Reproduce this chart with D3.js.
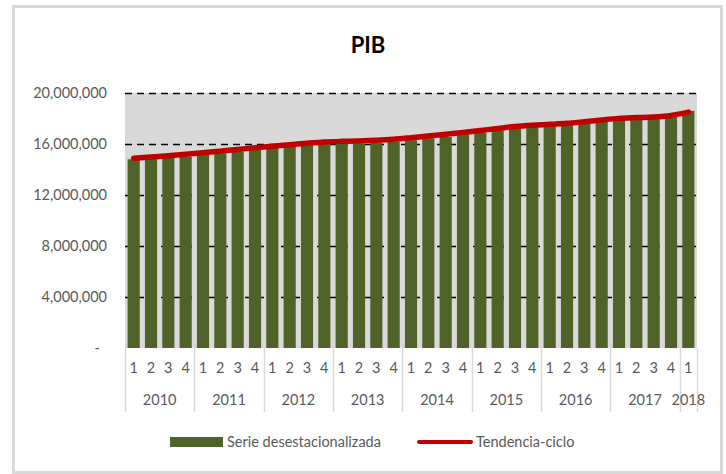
<!DOCTYPE html>
<html><head><meta charset="utf-8">
<script src="https://cdn.jsdelivr.net/npm/d3@7"></script>
<style>body{margin:0;background:#fff;} svg{display:block;font-family:Lato,"Open Sans",sans-serif;}</style>
</head><body>
<script>
const years = ["2010","2011","2012","2013","2014","2015","2016","2017","2018"];
const quarters = ["1","2","3","4"];
const quarterCount = [4,4,4,4,4,4,4,4,1];
const serieDesest = [14.80,14.85,14.90,15.00, 15.14,15.27,15.40,15.58, 15.69,15.79,15.95,16.05,
  16.05,16.05,16.10,16.20, 16.30,16.45,16.55,16.75, 16.90,17.05,17.31,17.36, 17.41,17.49,17.62,17.80,
  17.93,17.96,18.00,18.14, 18.60].map(v=>v*1e6);
const tendencia = [14.88,14.98,15.08,15.19, 15.31,15.44,15.57,15.71, 15.83,15.94,16.06,16.16,
  16.21,16.24,16.29,16.37, 16.49,16.62,16.76,16.91, 17.06,17.21,17.37,17.47, 17.54,17.62,17.75,17.89,
  18.01,18.07,18.12,18.24, 18.50].map(v=>v*1e6);
const yTicks = [0,4e6,8e6,12e6,16e6,20e6];
const title = "PIB";
const legendLabels = ["Serie desestacionalizada","Tendencia-ciclo"];

const cats = [];
years.forEach((y,i)=>{ for(let q=0;q<quarterCount[i];q++) cats.push({year:y, q:quarters[q], key:y+"-"+quarters[q]}); });

const W=726,H=474;
const svg=d3.select("body").append("svg").attr("width",W).attr("height",H);
svg.append("rect").attr("x",13.5).attr("y",6.5).attr("width",708).attr("height",466)
  .attr("fill","#fff").attr("stroke","#d9d9d9").attr("stroke-width",3);

const L=125,R=697,T=93,B=348;
const x=d3.scaleBand().domain(cats.map(d=>d.key)).range([L,R]).paddingInner(0.3).paddingOuter(0.15);
const y=d3.scaleLinear().domain([0,20e6]).range([B,T]);
const FS=14.5;

svg.append("text").attr("x",368).attr("y",53).attr("text-anchor","middle")
  .attr("font-size",22).attr("font-weight","bold").attr("fill","#000").text(title);

svg.append("rect").attr("x",L).attr("y",T).attr("width",R-L).attr("height",B-T).attr("fill","#d9d9d9");

// gridlines
svg.append("g").selectAll("line").data(yTicks.filter(d=>d>0)).join("line")
  .attr("x1",L).attr("x2",R).attr("y1",d=>Math.round(y(d))+0.5).attr("y2",d=>Math.round(y(d))+0.5)
  .attr("stroke","#000").attr("stroke-width",1.5).attr("stroke-dasharray","7,5");

// y labels
const fmt=d3.format(",");
svg.append("g").selectAll("text").data(yTicks).join("text")
  .attr("x",d=>d===0?100:107).attr("y",d=>y(d)).attr("dy","0.35em").attr("text-anchor","end")
  .attr("font-size",FS).attr("fill","#595959").text(d=>d===0?"-":fmt(d));

// bars
svg.append("g").selectAll("rect").data(cats).join("rect")
  .attr("x",d=>x(d.key)).attr("width",x.bandwidth())
  .attr("y",(d,i)=>y(serieDesest[i])).attr("height",(d,i)=>B-y(serieDesest[i]))
  .attr("fill","#4f6228");

// line
const line=d3.line().x((d,i)=>x(cats[i].key)+x.bandwidth()/2).y(d=>y(d)).curve(d3.curveMonotoneX);
svg.append("path").datum(tendencia).attr("d",line).attr("fill","none")
  .attr("stroke","#c00000").attr("stroke-width",5.5).attr("stroke-linecap","round");

// x axis: quarter labels
svg.append("g").selectAll("text").data(cats).join("text")
  .attr("x",d=>x(d.key)+x.bandwidth()/2).attr("y",373).attr("text-anchor","middle")
  .attr("font-size",FS).attr("fill","#595959").text(d=>d.q);

// year groups
let idx=0; const groups=[];
years.forEach((yv,i)=>{ const first=cats[idx].key, last=cats[idx+quarterCount[i]-1].key;
  groups.push({year:yv, x0:x(first)-x.step()*x.paddingInner()/2, x1:x(last)+x.bandwidth()+x.step()*x.paddingInner()/2});
  idx+=quarterCount[i]; });
groups[0].x0=L; groups[groups.length-1].x1=R;
const seps=[L].concat(groups.map(g=>g.x1));
svg.append("g").selectAll("line").data(seps).join("line")
  .attr("x1",d=>Math.round(d)+0.5).attr("x2",d=>Math.round(d)+0.5).attr("y1",B).attr("y2",412)
  .attr("stroke","#d9d9d9").attr("stroke-width",1.5);
svg.append("g").selectAll("text").data(groups).join("text")
  .attr("x",d=>(d.x0+d.x1)/2).attr("y",405).attr("text-anchor","middle")
  .attr("font-size",FS).attr("fill","#595959").text(d=>d.year);

// legend
svg.append("rect").attr("x",170).attr("y",437).attr("width",53).attr("height",10).attr("fill","#4f6228");
svg.append("text").attr("x",227).attr("y",442).attr("dy","0.35em").attr("font-size",FS).attr("fill","#595959").text(legendLabels[0]);
svg.append("line").attr("x1",419).attr("x2",471).attr("y1",442).attr("y2",442)
  .attr("stroke","#c00000").attr("stroke-width",4).attr("stroke-linecap","round");
svg.append("text").attr("x",476).attr("y",442).attr("dy","0.35em").attr("font-size",FS).attr("fill","#595959").text(legendLabels[1]);
</script>
</body></html>
